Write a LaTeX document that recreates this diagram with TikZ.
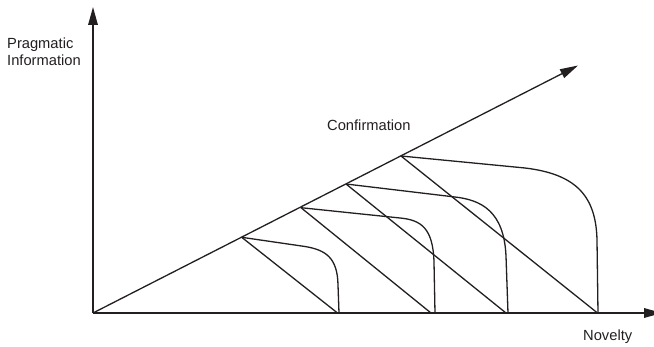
\documentclass[tikz,border=0pt]{standalone}
\usepackage{fontspec}
\setmainfont{Liberation Sans}
\usetikzlibrary{arrows.meta}
\definecolor{ink}{HTML}{231F20}
\begin{document}
\begin{tikzpicture}[x=1pt,y=-1pt,
  axis/.style={draw=ink,line width=1.7pt,-{Triangle[length=18pt,width=9.5pt]}},
  ray/.style={draw=ink,line width=1.3pt},
  lbl/.style={font=\fontsize{14.7}{17}\selectfont,text=ink,inner sep=0pt,anchor=base west,align=left}]
\useasboundingbox (0,0) rectangle (654,347);
% key points
\coordinate (O) at (93,313);
\coordinate (Ytip) at (93,7);
\coordinate (Xtip) at (662,313);
\coordinate (Dtip) at (578,65.5);
\coordinate (P1) at (241.7,237.3);
\coordinate (P2) at (301,207.7);
\coordinate (P3) at (346,184);
\coordinate (P4) at (401,156);
\coordinate (E1) at (337.5,313);
\coordinate (E2) at (431,313);
\coordinate (E3) at (506,313);
\coordinate (E4) at (597.5,313);
\coordinate (C1) at (339,313);
\coordinate (C2) at (435,313);
\coordinate (C3) at (508,313);
\coordinate (C4) at (598,313);
% axes
\draw[axis] (O) -- (Ytip);
\draw[axis] (O) -- (Xtip);
\draw[ray,-{Triangle[length=18pt,width=9.5pt]}] (O) -- (Dtip);
% diagonals
\draw[ray] (P1) -- (E1);
\draw[ray] (P2) -- (E2);
\draw[ray] (P3) -- (E3);
\draw[ray] (P4) -- (E4);
% curves
\draw[ray] (P1) -- (305,246.5) .. controls (326,250) and (337.5,258) .. (338,285) -- (C1);
\draw[ray] (P2) -- (400,218) .. controls (421,220) and (433,228) .. (434,262) -- (C2);
\draw[ray] (P3) -- (455,197) .. controls (481,200) and (504,211) .. (506,256) -- (C3);
\draw[ray] (P4) -- (525,168) .. controls (575,174) and (596,195) .. (597,240) -- (C4);
% labels
\node[lbl] (prag) at (7,65.7) {Pragmatic\\Information};
\node[lbl] (conf) at (327,130.7) {Confirmation};
\node[lbl] (nov) at (583,340.7) {Novelty};
\end{tikzpicture}
\end{document}
